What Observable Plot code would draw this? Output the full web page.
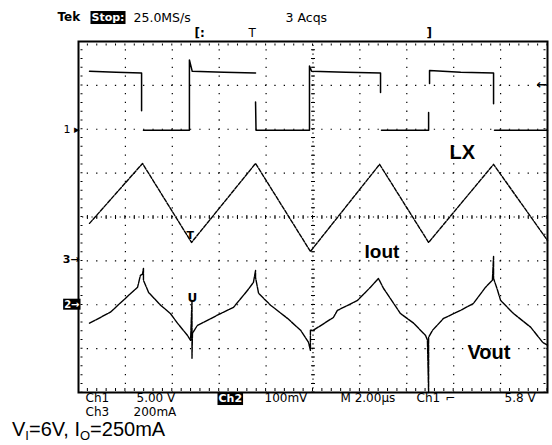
<!DOCTYPE html>
<html><head><meta charset="utf-8">
<script src="https://cdn.jsdelivr.net/npm/d3@7"></script>
<script src="https://cdn.jsdelivr.net/npm/@observablehq/plot@0.6"></script>
<style>
html,body{margin:0;padding:0;background:#fff;}
body{width:552px;height:445px;overflow:hidden;position:relative;font-family:"Liberation Sans",Arial,sans-serif;}
#chart{position:absolute;left:0;top:0;}
#cap{position:absolute;left:12px;top:418px;font-size:20px;color:#000;line-height:22px;white-space:nowrap;}
#cap sub{font-size:13px;vertical-align:-4px;line-height:0;}
</style></head>
<body><div id="chart"></div>
<div id="cap">V<sub>I</sub>=6V, I<sub>O</sub>=250mA</div>
<script>
// ---- channel settings (vertical scale per division, ground marker in divisions) ----
const ch1VoltsPerDiv = 5, ch1Ground = 2;      // LX
const ch3MilliampsPerDiv = 200, ch3Ground = -1; // Iout
const ch2MillivoltsPerDiv = 100, ch2Ground = -2; // Vout (AC)

// ---- LX (Ch1), volts; NaN breaks the trace where the fast edge was not captured ----
const lxTimeUs = [0.47,1.6,2.69,2.69,2.69,2.77,4.73,4.73,4.85,6.2,7.55,7.55,7.55,7.57,9.85,9.85,9.94,11.4,12.88,12.88,12.88,12.92,14.93,14.93,14.93,14.97,14.97,16.3,17.70,17.70,17.70,17.74,20.0];
const lxVolts  = [6.6,6.5,6.4,2.1,NaN,-0.1,-0.1,7.9,6.6,6.5,6.4,NaN,3.1,-0.1,-0.1,7.2,6.6,6.5,6.4,4.2,NaN,-0.1,-0.1,1.9,NaN,5.2,6.7,6.5,6.4,2.9,NaN,-0.1,-0.1];

// ---- Iout (Ch3), mA ----
const ioutTimeUs = [0.47,2.73,4.82,7.55,9.89,12.84,14.93,17.70,20.0];
const ioutMilliamps = [171,444,84,444,43,440,84,440,93];

// ---- Vout (Ch2), mV ripple ----
const voutTimeUs = [0.47,1.36,2.13,2.52,2.64,2.73,2.77,2.77,2.99,3.50,3.92,4.22,4.65,4.78,4.84,4.84,4.86,5.07,5.33,6.06,6.61,7.21,7.46,7.55,7.55,7.68,8.19,8.91,9.47,9.81,9.89,9.89,10.02,10.87,11.04,11.90,12.45,12.79,13.01,13.73,14.29,14.80,14.88,14.93,14.93,15.10,15.57,16.29,16.84,17.36,17.65,17.70,17.70,17.87,18.00,18.55,19.28,19.80,20.0];
const voutMillivolts = [-42,-17,21,40,67,70,83,56,28,-1,-20,-42,-70,-81,10,-122,-65,-47,-40,-20,-6,33,51,78,62,26,-1,-31,-58,-86,-104,-58,-58,-29,-13,10,40,60,37,-20,-42,-70,-81,-200,-74,-58,-31,-13,3,40,56,110,60,33,10,-20,-51,-86,-92];

// ---- screen text ----
const headerTexts = ["Tek", "Stop:", "25.0MS/s", "3 Acqs"];
const recordMarks = ["[:", "T", "]"];
const readoutRow1 = ["Ch1", "5.00 V", "Ch2", "100mV", "M 2.00µs", "Ch1", "⌐", "5.8 V"];
const readoutRow2 = ["Ch3", "200mA"];
const traceNames = ["LX", "Iout", "Vout"];
const gridTimesUs = [2,4,6,8,12,14,16,18];
const gridDivs = [-3,-2,-1,1,2,3];

const lx = lxTimeUs.map((t,i)=>({t, div: ch1Ground + lxVolts[i]/ch1VoltsPerDiv}));
const iout = ioutTimeUs.map((t,i)=>({t, div: ch3Ground + ioutMilliamps[i]/ch3MilliampsPerDiv}));
const vout = voutTimeUs.map((t,i)=>({t, div: ch2Ground + voutMillivolts[i]/ch2MillivoltsPerDiv}));

const ML = 78, MT = 41;
const scopeFont = "DejaVu Sans";
const L = (text, px, py, o={}) => Plot.text([text], {text: d=>d, frameAnchor:"top-left", dx: px-ML, dy: py-MT, textAnchor:"start", lineAnchor:"middle", fontSize:11, fill:"#000", ...o});

const plot = Plot.plot({
  width: 552, height: 420,
  marginLeft: ML, marginRight: 5, marginTop: MT, marginBottom: 28,
  x: {domain:[0,20], axis:null},
  y: {domain:[-4,4], axis:null},
  style: {fontFamily: scopeFont, background:"#fff", overflow:"visible"},
  marks: [
    // dotted graticule
    Plot.ruleX(gridTimesUs, {stroke:"#000", strokeWidth:1.2, strokeDasharray:"1.3,7.48", strokeDashoffset:0.65}),
    Plot.ruleY(gridDivs, {stroke:"#000", strokeWidth:1.2, strokeDasharray:"1.3,8.08", strokeDashoffset:0.65}),
    // centre lines with minor ticks
    Plot.ruleX([10], {stroke:"#000", strokeWidth:1.2, strokeDasharray:"1.2,3.19", strokeDashoffset:0.6}),
    Plot.ruleX([10], {stroke:"#000", strokeWidth:4, strokeDasharray:"1,7.78", strokeDashoffset:0.5}),
    Plot.ruleY([0], {stroke:"#000", strokeWidth:1.2, strokeDasharray:"1.2,3.49", strokeDashoffset:0.6}),
    Plot.ruleY([0], {stroke:"#000", strokeWidth:4, strokeDasharray:"1,8.38", strokeDashoffset:0.5}),
    // border ticks
    Plot.ruleY([4], {dy:3, stroke:"#000", strokeWidth:2, strokeDasharray:"1,8.38", strokeDashoffset:0.5}),
    Plot.ruleY([-4], {dy:-3, stroke:"#000", strokeWidth:3, strokeDasharray:"1,8.38", strokeDashoffset:0.5}),
    Plot.ruleX([0], {dx:3, stroke:"#000", strokeWidth:2, strokeDasharray:"1,7.78", strokeDashoffset:0.5}),
    Plot.ruleX([20], {dx:-3, stroke:"#000", strokeWidth:2, strokeDasharray:"1,7.78", strokeDashoffset:0.5}),
    Plot.frame({stroke:"#000", strokeWidth:2}),
    // traces
    Plot.line(lx, {x:"t", y:"div", stroke:"#000", strokeWidth:1.5, curve:"linear"}),
    Plot.line(iout, {x:"t", y:"div", stroke:"#000", strokeWidth:1.4, strokeDasharray:"4,1.5"}),
    Plot.line(vout, {x:"t", y:"div", stroke:"#000", strokeWidth:1.4, strokeDasharray:"6,1.2"}),
    // trace markers
    L("T", 186, 235, {fontWeight:"bold", fontSize:11}),
    L("U", 187, 298, {fontWeight:"bold", fontSize:12}),
    // trace names
    L(traceNames[0], 449, 152, {fontFamily:"Liberation Sans", fontWeight:"bold", fontSize:20}),
    L(traceNames[1], 364, 251, {fontFamily:"Liberation Sans", fontWeight:"bold", fontSize:19}),
    L(traceNames[2], 467, 352, {fontFamily:"Liberation Sans", fontWeight:"bold", fontSize:20}),
    // channel ground markers
    L("1 ▸", 79, 129, {textAnchor:"end", fontSize:11}),
    L("3→", 79, 259, {textAnchor:"end", fontSize:11, fontWeight:"bold"}),
    L("2→", 79, 304, {textAnchor:"end", fontSize:10, fontWeight:"bold"}),
    L("←", 547, 84, {textAnchor:"end", fontSize:13, fontWeight:"bold"}),
    // header
    L(headerTexts[0], 57, 17, {fontWeight:"bold", fontSize:12}),
    L(headerTexts[1], 91, 17, {fontWeight:"bold", fontSize:11}),
    L(headerTexts[2], 133, 17, {fontSize:12.5}),
    L(headerTexts[3], 285, 17, {fontSize:12.5}),
    L(recordMarks[0], 194, 33, {fontSize:12, fontWeight:"bold"}),
    L(recordMarks[1], 248, 33, {fontSize:12}),
    L(recordMarks[2], 426, 33, {fontSize:12, fontWeight:"bold"}),
    // readouts
    L(readoutRow1[0], 85, 398, {fontSize:12}),
    L(readoutRow1[1], 136, 398, {fontSize:12}),
    L(readoutRow1[2], 218, 398, {fontSize:11, fontWeight:"bold"}),
    L(readoutRow1[3], 264, 398, {fontSize:12}),
    L(readoutRow1[4], 340, 398, {fontSize:12}),
    L(readoutRow1[5], 416, 398, {fontSize:12}),
    L(readoutRow1[6], 445, 398, {fontSize:12}),
    L(readoutRow1[7], 504, 398, {fontSize:12}),
    L(readoutRow2[0], 85, 412, {fontSize:12}),
    L(readoutRow2[1], 133, 412, {fontSize:12})
  ]
});
document.getElementById("chart").appendChild(plot);

// reverse-video labels
const inverted = new Set(["Stop:", "Ch2", "2→"]);
plot.querySelectorAll("text").forEach(el => {
  if (!inverted.has(el.textContent)) return;
  const b = el.getBBox();
  const r = document.createElementNS("http://www.w3.org/2000/svg", "rect");
  r.setAttribute("x", b.x - 1); r.setAttribute("y", b.y);
  r.setAttribute("width", b.width + 2); r.setAttribute("height", b.height);
  r.setAttribute("fill", "#000");
  if (el.getAttribute("transform")) r.setAttribute("transform", el.getAttribute("transform"));
  el.parentNode.insertBefore(r, el);
  el.setAttribute("fill", "#fff");
});
</script>
</body></html>
